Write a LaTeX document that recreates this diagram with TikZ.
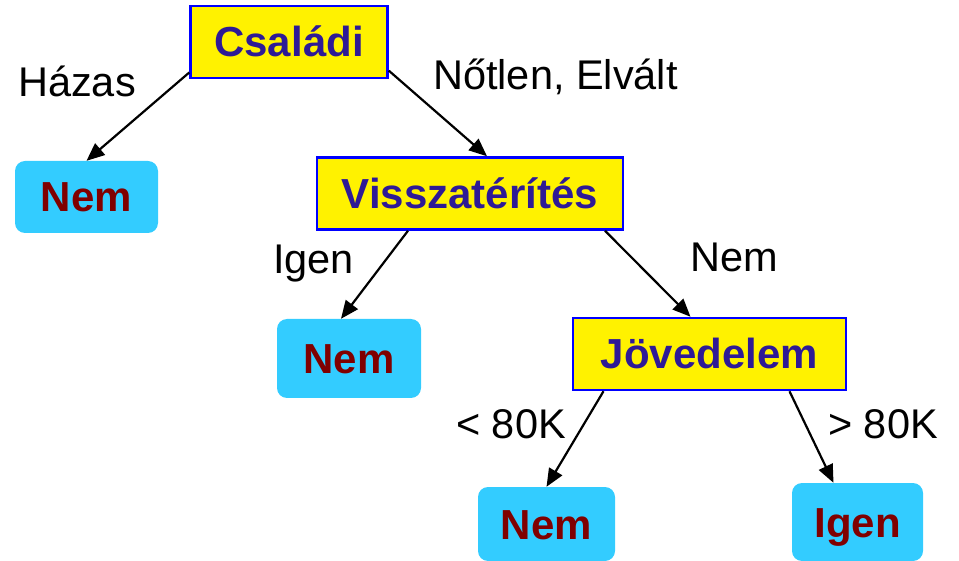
\documentclass[tikz,border=0pt]{standalone}
\usepackage{fontspec}
\setmainfont{Liberation Sans}
\usetikzlibrary{arrows.meta}
\definecolor{attrblue}{RGB}{46,26,150}
\definecolor{leafcyan}{RGB}{51,204,255}
\definecolor{leafred}{RGB}{128,0,0}

\begin{document}
\begin{tikzpicture}[x=1pt,y=-1pt]
      \useasboundingbox(0,0) rectangle (959,561);
      \tikzset{A/.style = {shape=rectangle, draw=blue, line width=2.5pt, fill=yellow,
          text=attrblue, font=\fontsize{42}{50}\selectfont\bfseries,
          text height=30pt, text depth=0pt, minimum height=72pt}}
      \tikzset{L/.style = {shape=rectangle, rounded corners=10pt, fill=leafcyan,
          text=leafred, font=\fontsize{42}{50}\selectfont\bfseries,
          text height=30pt, text depth=0pt}}
      \tikzset{T/.style = {anchor=base west, inner sep=0pt, font=\fontsize{41.5}{50}\selectfont}}
      \tikzset{E/.style = {draw, line width=2.2pt, -{Triangle[length=18pt,width=15pt]}}}
      % attribute tests
      \node[A, minimum width=197pt](csal) at (289,42) {Családi};
      \node[A, minimum width=306pt](vissz) at (470,193.5) {Visszatérítés};
      \node[A, minimum width=273pt](jov) at (709.5,354) {Jövedelem};
      % leaves
      \node[L, minimum width=143pt, minimum height=72pt](n1) at (86.5,197) {Nem};
      \node[L, minimum width=144pt, minimum height=79pt](n2) at (349,358.5) {Nem};
      \node[L, minimum width=137pt, minimum height=74pt](n3) at (546.5,524) {Nem};
      \node[L, minimum width=131pt, minimum height=78pt](i1) at (857.5,522) {Igen};
      % edge labels
      \node[T](lhaz) at (18,97) {Házas};
      \node[T](lnot) at (433,90) {Nőtlen, Elvált};
      \node[T](ligen) at (273,274) {Igen};
      \node[T](lnem) at (690,272) {Nem};
      \node[T](lkis) at (456,438) {< 80K};
      \node[T](lnagy) at (828,438) {> 80K};
      % branches
      \draw[E](csal.197) to (n1.north);
      \draw[E](csal.344) to ([xshift=17pt]vissz.north);
      \draw[E]([xshift=-62pt]vissz.south) to ([xshift=-8pt]n2.north);
      \draw[E]([xshift=135pt]vissz.south) to ([xshift=-19pt]jov.north);
      \draw[E]([xshift=-106pt]jov.south) to (n3.north);
      \draw[E]([xshift=80pt]jov.south) to ([xshift=-24pt]i1.north);
    \end{tikzpicture}
\end{document}
